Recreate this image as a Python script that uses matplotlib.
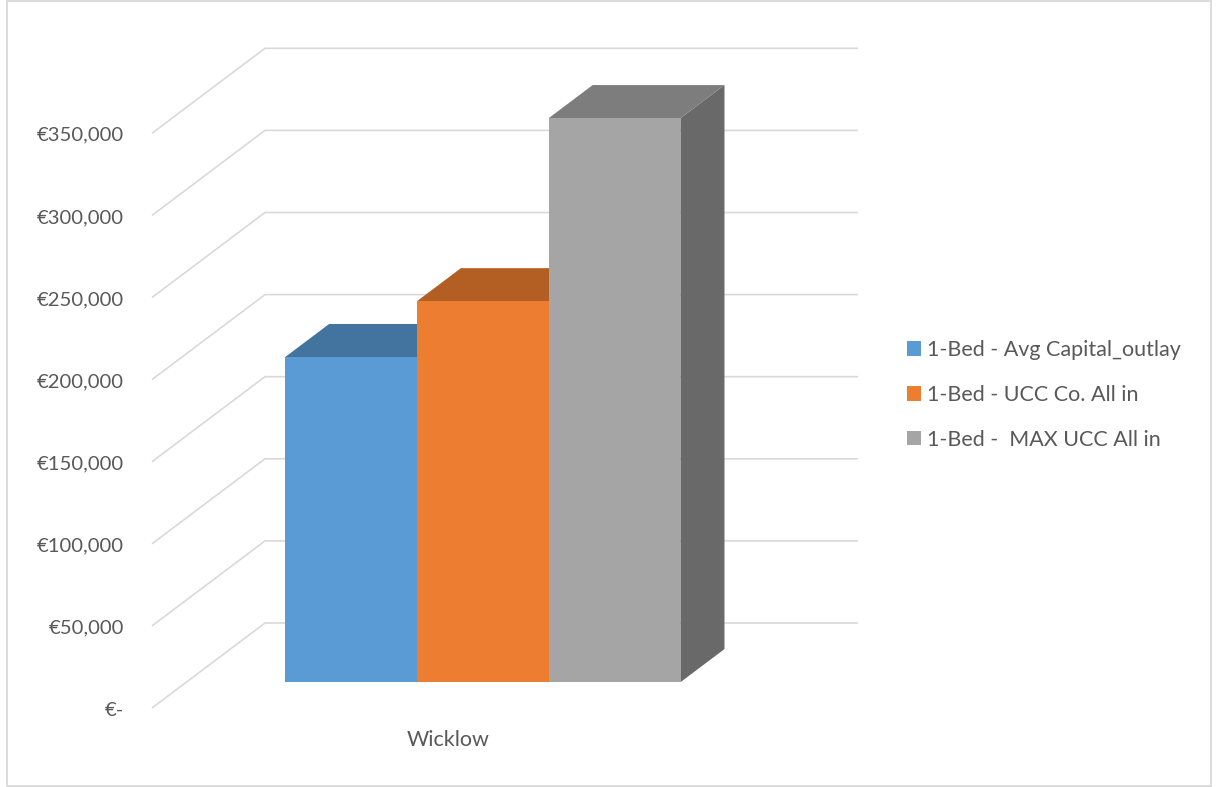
import matplotlib.pyplot as plt
from matplotlib.patches import Polygon, Rectangle, Patch

plt.rcParams['font.family'] = ['Lato', 'DejaVu Sans']

category = 'Wicklow'
series = ['1-Bed - Avg Capital_outlay', '1-Bed - UCC Co. All in', '1-Bed -  MAX UCC All in']
values = [198000, 232000, 343500]
ticks = [0, 50000, 100000, 150000, 200000, 250000, 300000, 350000]

front = ['#5b9bd5', '#ed7d31', '#a5a5a5']
top = ['#43749f', '#b35e23', '#7d7d7d']
side = ['#44739e', '#b15d22', '#696969']
grid_c = '#d9d9d9'
text_c = '#595959'

W, H = 1226, 787
fig = plt.figure(figsize=(W / 100, H / 100), dpi=100)
ax = fig.add_axes([0, 0, 1, 1])
ax.axis('off')

# value scale: 82.1 px per 50k, zero of the front plane at y=708 px
k = 82.1 / 50000
ax.set_ylim(-(H - 708) / k, 708 / k)
# x: one category spans 593 px on the front plane, centred at 448.5 px
ax.set_xlim(-448.5 / 593, (W - 448.5) / 593)

# oblique depth offset of the whole floor
DX = 113 / 593
DY = 85 / k


def P(x, v, d):
    return (x + d * DX, v + d * DY)


# gridlines: diagonal on the left wall, horizontal on the back wall
for t in ticks:
    a = P(-0.5, t, 0)
    b = P(-0.5, t, 1)
    c = P(0.5, t, 1)
    ax.plot([a[0], b[0], c[0]], [a[1], b[1], c[1]], color=grid_c, lw=1.2,
            solid_capstyle='butt', zorder=1)
    lab = '€-' if t == 0 else '€{:,.0f}'.format(t)
    ax.text(-0.5 - 28 / 593, t - 2 / k, lab, ha='right', va='center',
            fontsize=14.6, color=text_c)

# bars
w = 1 / 4.5
d0, d1 = 0.303, 0.693
for i, v in enumerate(values):
    x0 = -0.5 + 0.75 * w + i * w
    x1 = x0 + w
    ax.add_patch(Polygon([P(x1, 0, d0), P(x1, 0, d1), P(x1, v, d1), P(x1, v, d0)],
                         closed=True, fc=side[i], ec='none', zorder=2 + i))
    ax.add_patch(Polygon([P(x0, v, d0), P(x1, v, d0), P(x1, v, d1), P(x0, v, d1)],
                         closed=True, fc=top[i], ec='none', zorder=2 + i))
    ax.add_patch(Polygon([P(x0, 0, d0), P(x1, 0, d0), P(x1, v, d0), P(x0, v, d0)],
                         closed=True, fc=front[i], ec='none', zorder=2 + i))

ax.text(0, -32 / k, category, ha='center', va='center', fontsize=15.5, color=text_c)

handles = [Patch(fc=front[i], ec='none', label=series[i]) for i in range(3)]
leg = fig.legend(handles=handles, loc='center left', bbox_to_anchor=(907 / W, 1 - 395 / H),
                 frameon=False, fontsize=15.5, labelcolor=text_c,
                 borderpad=0, borderaxespad=0,
                 handlelength=0.65, handleheight=0.65, handletextpad=0.3,
                 labelspacing=1.15)

# chart area border
fig.add_artist(Rectangle((7 / W, 1 / H), (1211 - 7) / W, (786 - 1) / H,
                         transform=fig.transFigure, fill=False, ec=grid_c, lw=1.3))

fig.savefig('out.png', dpi=100)
